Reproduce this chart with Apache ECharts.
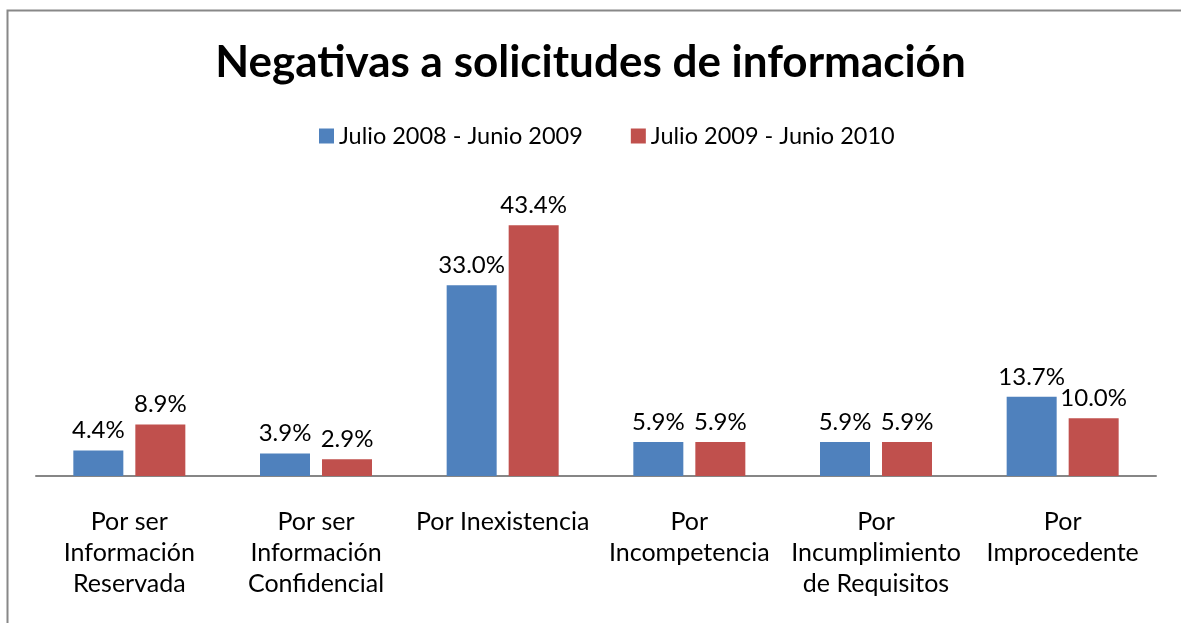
<!DOCTYPE html>
<html>
<head>
<meta charset="utf-8">
<script src="https://cdn.jsdelivr.net/npm/echarts@6/dist/echarts.min.js"></script>
<style>
  html, body { margin: 0; padding: 0; background: #fff; }
  #chart { width: 1181px; height: 623px; }
</style>
</head>
<body>
<div id="chart"></div>
<script>
// categorías y valores (%)
const categories = [
  'Por ser\nInformación\nReservada',
  'Por ser\nInformación\nConfidencial',
  'Por Inexistencia',
  'Por\nIncompetencia',
  'Por\nIncumplimiento\nde Requisitos',
  'Por\nImprocedente'
];
const serie2009 = [4.4, 3.9, 33.0, 5.9, 5.9, 13.7];
const serie2010 = [8.9, 2.9, 43.4, 5.9, 5.9, 10.0];
const seriesNames = ['Julio 2008 - Junio 2009', 'Julio 2009 - Junio 2010'];

const FONT = 'Lato, "Liberation Sans", sans-serif';

const chart = echarts.init(document.getElementById('chart'));

const option = {
  animation: false,
  textStyle: { fontFamily: FONT },
  title: {
    text: 'Negativas a solicitudes de información',
    left: 'center',
    top: 36,
    textStyle: { fontSize: 44, fontWeight: 'bold', color: '#000', fontFamily: FONT }
  },
  legend: {
    top: 119,
    left: 314,
    itemWidth: 15,
    itemHeight: 15,
    itemGap: 48,
    icon: 'rect',
    textStyle: { fontSize: 23.5, color: '#000' },
    data: seriesNames
  },
  // marco del gráfico (sólo se ven los bordes superior e izquierdo)
  graphic: [{
    type: 'rect',
    shape: { x: 7.5, y: 10.5, width: 1250, height: 700 },
    style: { fill: 'none', stroke: '#888', lineWidth: 2 },
    silent: true
  }],
  grid: { left: 36, right: 25, top: 187, bottom: 147 },
  xAxis: {
    type: 'category',
    data: categories,
    axisLine: { lineStyle: { color: '#868686', width: 2 } },
    axisTick: { show: false },
    axisLabel: {
      interval: 0,
      margin: 30,
      fontSize: 25,
      lineHeight: 31,
      color: '#000',
      verticalAlign: 'top'
    }
  },
  yAxis: {
    type: 'value',
    min: 0,
    max: 50,
    show: false,
    splitLine: { show: false }
  },
  series: [{
    name: seriesNames[0],
    type: 'bar',
    barWidth: 50,
    barGap: '24%',
    itemStyle: { color: '#4F81BD' },
    label: {
      show: true,
      position: 'top',
      distance: 8,
      fontSize: 24,
      color: '#000',
      formatter: p => p.value.toFixed(1) + '%'
    },
    data: serie2009
  }, {
    name: seriesNames[1],
    type: 'bar',
    barWidth: 50,
    itemStyle: { color: '#C0504D' },
    label: {
      show: true,
      position: 'top',
      distance: 8,
      fontSize: 24,
      color: '#000',
      formatter: p => p.value.toFixed(1) + '%'
    },
    data: serie2010
  }]
};

chart.setOption(option);
</script>
</body>
</html>
